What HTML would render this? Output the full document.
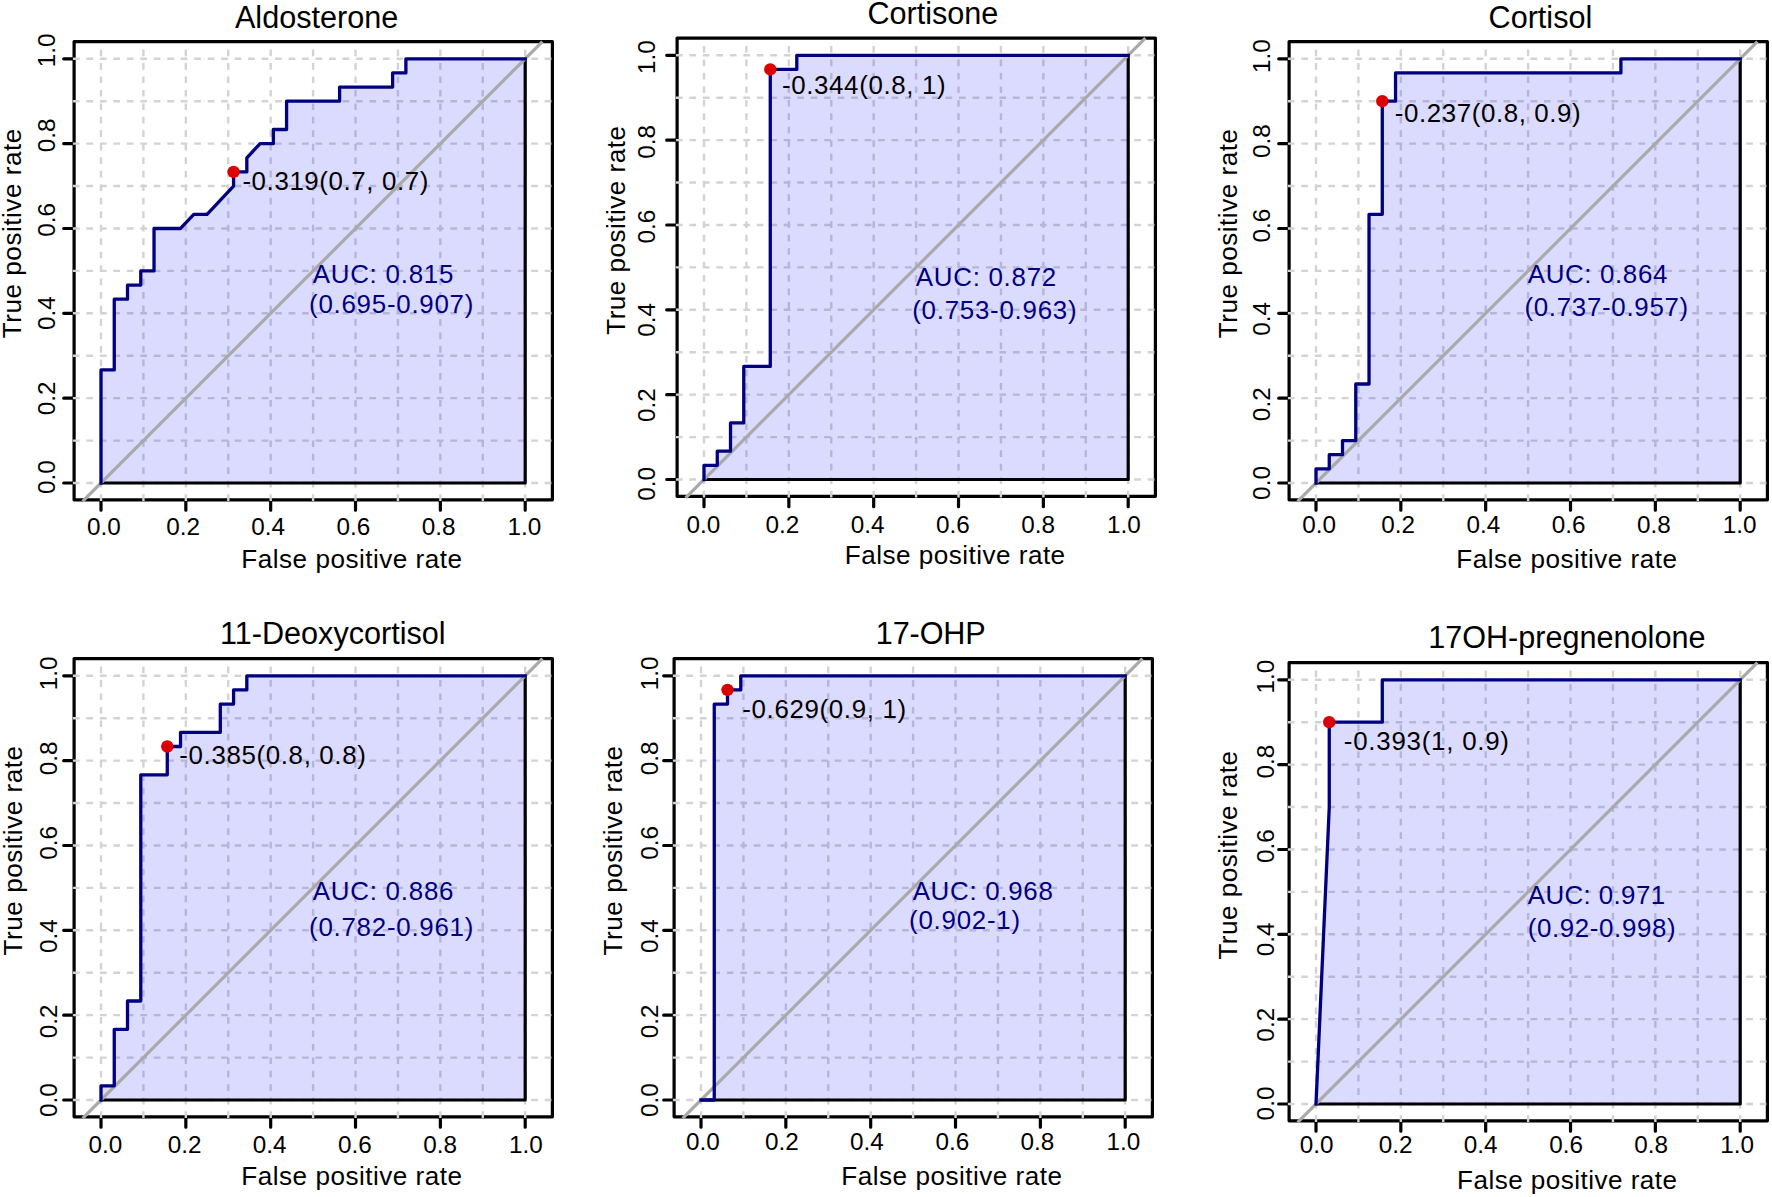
<!DOCTYPE html>
<html lang="en"><head><meta charset="utf-8"><title>ROC curves</title>
<style>html,body{margin:0;padding:0;background:#fff;}body{width:1772px;height:1197px;overflow:hidden;}svg{display:block;}text{font-family:"Liberation Sans",Arial,sans-serif;}</style></head><body>
<svg width="1772" height="1197" viewBox="0 0 1772 1197">
<rect x="0" y="0" width="1772" height="1197" fill="#ffffff"/>
<g id="Aldosterone">
<rect x="74.1" y="41.6" width="478.3" height="458.2" fill="none" stroke="#000" stroke-width="3.2" stroke-linejoin="round"/>
<path d="M101 499.8v10.4M74.1 483h-10.4M185.84 499.8v10.4M74.1 398.16h-10.4M270.68 499.8v10.4M74.1 313.32h-10.4M355.52 499.8v10.4M74.1 228.48h-10.4M440.36 499.8v10.4M74.1 143.64h-10.4M525.2 499.8v10.4M74.1 58.8h-10.4" stroke="#000" stroke-width="3.2" stroke-linecap="round" fill="none"/>
<path d="M101 501V44.2M72.9 483H552.4M143.42 501V44.2M72.9 440.58H552.4M185.84 501V44.2M72.9 398.16H552.4M228.26 501V44.2M72.9 355.74H552.4M270.68 501V44.2M72.9 313.32H552.4M313.1 501V44.2M72.9 270.9H552.4M355.52 501V44.2M72.9 228.48H552.4M397.94 501V44.2M72.9 186.06H552.4M440.36 501V44.2M72.9 143.64H552.4M482.78 501V44.2M72.9 101.22H552.4M525.2 501V44.2M72.9 58.8H552.4" stroke="#d3d3d3" stroke-width="2.4" stroke-dasharray="6.7 6.78" fill="none"/>
<polygon points="101,483 101,369.88 114.26,369.88 114.26,299.18 127.51,299.18 127.51,285.04 140.77,285.04 140.77,270.9 154.03,270.9 154.03,228.48 180.54,228.48 193.79,214.34 207.05,214.34 233.56,186.06 233.56,171.92 246.82,171.92 246.82,157.78 260.07,143.64 273.33,143.64 273.33,129.5 286.59,129.5 286.59,101.22 339.61,101.22 339.61,87.08 392.64,87.08 392.64,72.94 405.89,72.94 405.89,58.8 525.2,58.8 525.2,483 101,483" fill="#0000ff" fill-opacity="0.14" stroke="none"/>
<path d="M525.2 58.8V483H101" stroke="#000" stroke-width="3.2" fill="none" stroke-linejoin="round"/>
<line x1="82.6" y1="501.4" x2="542.4" y2="41.6" stroke="#a9a9a9" stroke-width="3.2"/>
<polyline points="101,483 101,369.88 114.26,369.88 114.26,299.18 127.51,299.18 127.51,285.04 140.77,285.04 140.77,270.9 154.03,270.9 154.03,228.48 180.54,228.48 193.79,214.34 207.05,214.34 233.56,186.06 233.56,171.92 246.82,171.92 246.82,157.78 260.07,143.64 273.33,143.64 273.33,129.5 286.59,129.5 286.59,101.22 339.61,101.22 339.61,87.08 392.64,87.08 392.64,72.94 405.89,72.94 405.89,58.8 525.2,58.8" fill="none" stroke="#000080" stroke-width="3.3" stroke-linejoin="round" stroke-linecap="square"/>
<circle cx="233.56" cy="171.92" r="6.2" fill="#dc0000"/>
<text x="234.94" y="27.8" font-size="30.6" fill="#000">Aldosterone</text>
<text x="87.12" y="534.9" font-size="24.3" fill="#000">0.0</text>
<text transform="translate(54.5 494.08) rotate(-90)" font-size="24.3" fill="#000">0.0</text>
<text x="166.17" y="534.9" font-size="24.3" fill="#000">0.2</text>
<text transform="translate(54.5 415.33) rotate(-90)" font-size="24.3" fill="#000">0.2</text>
<text x="251.26" y="534.9" font-size="24.3" fill="#000">0.4</text>
<text transform="translate(54.5 330.04) rotate(-90)" font-size="24.3" fill="#000">0.4</text>
<text x="336.61" y="534.9" font-size="24.3" fill="#000">0.6</text>
<text transform="translate(54.5 236.69) rotate(-90)" font-size="24.3" fill="#000">0.6</text>
<text x="421.75" y="534.9" font-size="24.3" fill="#000">0.8</text>
<text transform="translate(54.5 152.15) rotate(-90)" font-size="24.3" fill="#000">0.8</text>
<text x="507.6" y="534.9" font-size="24.3" fill="#000">1.0</text>
<text transform="translate(54.5 67.25) rotate(-90)" font-size="24.3" fill="#000">1.0</text>
<text x="241.34" y="567.9" font-size="26.1" letter-spacing="0.5" fill="#000">False positive rate</text>
<text transform="translate(21.05 338.2) rotate(-90)" font-size="26.1" letter-spacing="0.52" fill="#000">True positive rate</text>
<text x="242.42" y="189.7" font-size="25.9" letter-spacing="0.59" fill="#000">-0.319(0.7, 0.7)</text>
<text x="312.63" y="282.5" font-size="25.9" letter-spacing="0.77" fill="#000080">AUC: 0.815</text>
<text x="309.06" y="312.7" font-size="25.9" letter-spacing="0.74" fill="#000080">(0.695-0.907)</text>
</g>
<g id="Cortisone">
<rect x="677.1" y="38.1" width="478.3" height="458.2" fill="none" stroke="#000" stroke-width="3.2" stroke-linejoin="round"/>
<path d="M704 496.3v10.4M677.1 479.5h-10.4M788.84 496.3v10.4M677.1 394.66h-10.4M873.68 496.3v10.4M677.1 309.82h-10.4M958.52 496.3v10.4M677.1 224.98h-10.4M1043.36 496.3v10.4M677.1 140.14h-10.4M1128.2 496.3v10.4M677.1 55.3h-10.4" stroke="#000" stroke-width="3.2" stroke-linecap="round" fill="none"/>
<path d="M704 497.5V40.7M675.9 479.5H1155.4M746.42 497.5V40.7M675.9 437.08H1155.4M788.84 497.5V40.7M675.9 394.66H1155.4M831.26 497.5V40.7M675.9 352.24H1155.4M873.68 497.5V40.7M675.9 309.82H1155.4M916.1 497.5V40.7M675.9 267.4H1155.4M958.52 497.5V40.7M675.9 224.98H1155.4M1000.94 497.5V40.7M675.9 182.56H1155.4M1043.36 497.5V40.7M675.9 140.14H1155.4M1085.78 497.5V40.7M675.9 97.72H1155.4M1128.2 497.5V40.7M675.9 55.3H1155.4" stroke="#d3d3d3" stroke-width="2.4" stroke-dasharray="6.7 6.78" fill="none"/>
<polygon points="704,479.5 704,465.36 717.26,465.36 717.26,451.22 730.51,451.22 730.51,422.94 743.77,422.94 743.77,366.38 770.28,366.38 770.28,69.44 796.79,69.44 796.79,55.3 1128.2,55.3 1128.2,479.5 704,479.5" fill="#0000ff" fill-opacity="0.14" stroke="none"/>
<path d="M1128.2 55.3V479.5H704" stroke="#000" stroke-width="3.2" fill="none" stroke-linejoin="round"/>
<line x1="685.6" y1="497.9" x2="1145.4" y2="38.1" stroke="#a9a9a9" stroke-width="3.2"/>
<polyline points="704,479.5 704,465.36 717.26,465.36 717.26,451.22 730.51,451.22 730.51,422.94 743.77,422.94 743.77,366.38 770.28,366.38 770.28,69.44 796.79,69.44 796.79,55.3 1128.2,55.3" fill="none" stroke="#000080" stroke-width="3.3" stroke-linejoin="round" stroke-linecap="square"/>
<circle cx="770.28" cy="69.44" r="6.2" fill="#dc0000"/>
<text x="867.42" y="24.4" font-size="30.6" fill="#000">Cortisone</text>
<text x="686.52" y="533.4" font-size="24.3" fill="#000">0.0</text>
<text transform="translate(654.5 500.78) rotate(-90)" font-size="24.3" fill="#000">0.0</text>
<text x="765.57" y="533.4" font-size="24.3" fill="#000">0.2</text>
<text transform="translate(654.5 422.03) rotate(-90)" font-size="24.3" fill="#000">0.2</text>
<text x="850.66" y="533.4" font-size="24.3" fill="#000">0.4</text>
<text transform="translate(654.5 336.74) rotate(-90)" font-size="24.3" fill="#000">0.4</text>
<text x="936.01" y="533.4" font-size="24.3" fill="#000">0.6</text>
<text transform="translate(654.5 243.39) rotate(-90)" font-size="24.3" fill="#000">0.6</text>
<text x="1021.15" y="533.4" font-size="24.3" fill="#000">0.8</text>
<text transform="translate(654.5 158.85) rotate(-90)" font-size="24.3" fill="#000">0.8</text>
<text x="1107" y="533.4" font-size="24.3" fill="#000">1.0</text>
<text transform="translate(654.5 73.95) rotate(-90)" font-size="24.3" fill="#000">1.0</text>
<text x="844.74" y="564.4" font-size="26.1" letter-spacing="0.48" fill="#000">False positive rate</text>
<text transform="translate(625 334.8) rotate(-90)" font-size="26.1" letter-spacing="0.48" fill="#000">True positive rate</text>
<text x="781.92" y="94" font-size="25.9" letter-spacing="0.64" fill="#000">-0.344(0.8, 1)</text>
<text x="915.83" y="286.1" font-size="25.9" letter-spacing="0.72" fill="#000080">AUC: 0.872</text>
<text x="912.26" y="319.3" font-size="25.9" letter-spacing="0.74" fill="#000080">(0.753-0.963)</text>
</g>
<g id="Cortisol">
<rect x="1289.1" y="41.6" width="478.3" height="458.2" fill="none" stroke="#000" stroke-width="3.2" stroke-linejoin="round"/>
<path d="M1316 499.8v10.4M1289.1 483h-10.4M1400.84 499.8v10.4M1289.1 398.16h-10.4M1485.68 499.8v10.4M1289.1 313.32h-10.4M1570.52 499.8v10.4M1289.1 228.48h-10.4M1655.36 499.8v10.4M1289.1 143.64h-10.4M1740.2 499.8v10.4M1289.1 58.8h-10.4" stroke="#000" stroke-width="3.2" stroke-linecap="round" fill="none"/>
<path d="M1316 501V44.2M1287.9 483H1767.4M1358.42 501V44.2M1287.9 440.58H1767.4M1400.84 501V44.2M1287.9 398.16H1767.4M1443.26 501V44.2M1287.9 355.74H1767.4M1485.68 501V44.2M1287.9 313.32H1767.4M1528.1 501V44.2M1287.9 270.9H1767.4M1570.52 501V44.2M1287.9 228.48H1767.4M1612.94 501V44.2M1287.9 186.06H1767.4M1655.36 501V44.2M1287.9 143.64H1767.4M1697.78 501V44.2M1287.9 101.22H1767.4M1740.2 501V44.2M1287.9 58.8H1767.4" stroke="#d3d3d3" stroke-width="2.4" stroke-dasharray="6.7 6.78" fill="none"/>
<polygon points="1316,483 1316,468.86 1329.26,468.86 1329.26,454.72 1342.51,454.72 1342.51,440.58 1355.77,440.58 1355.77,384.02 1369.03,384.02 1369.03,214.34 1382.28,214.34 1382.28,101.22 1395.54,101.22 1395.54,72.94 1620.89,72.94 1620.89,58.8 1740.2,58.8 1740.2,483 1316,483" fill="#0000ff" fill-opacity="0.14" stroke="none"/>
<path d="M1740.2 58.8V483H1316" stroke="#000" stroke-width="3.2" fill="none" stroke-linejoin="round"/>
<line x1="1297.6" y1="501.4" x2="1757.4" y2="41.6" stroke="#a9a9a9" stroke-width="3.2"/>
<polyline points="1316,483 1316,468.86 1329.26,468.86 1329.26,454.72 1342.51,454.72 1342.51,440.58 1355.77,440.58 1355.77,384.02 1369.03,384.02 1369.03,214.34 1382.28,214.34 1382.28,101.22 1395.54,101.22 1395.54,72.94 1620.89,72.94 1620.89,58.8 1740.2,58.8" fill="none" stroke="#000080" stroke-width="3.3" stroke-linejoin="round" stroke-linecap="square"/>
<circle cx="1382.28" cy="101.22" r="6.2" fill="#dc0000"/>
<text x="1488.55" y="27.8" font-size="30.6" fill="#000">Cortisol</text>
<text x="1302.32" y="533.1" font-size="24.3" fill="#000">0.0</text>
<text transform="translate(1270.3 499.88) rotate(-90)" font-size="24.3" fill="#000">0.0</text>
<text x="1381.37" y="533.1" font-size="24.3" fill="#000">0.2</text>
<text transform="translate(1270.3 421.13) rotate(-90)" font-size="24.3" fill="#000">0.2</text>
<text x="1466.46" y="533.1" font-size="24.3" fill="#000">0.4</text>
<text transform="translate(1270.3 335.84) rotate(-90)" font-size="24.3" fill="#000">0.4</text>
<text x="1551.81" y="533.1" font-size="24.3" fill="#000">0.6</text>
<text transform="translate(1270.3 242.49) rotate(-90)" font-size="24.3" fill="#000">0.6</text>
<text x="1636.95" y="533.1" font-size="24.3" fill="#000">0.8</text>
<text transform="translate(1270.3 157.95) rotate(-90)" font-size="24.3" fill="#000">0.8</text>
<text x="1722.8" y="533.1" font-size="24.3" fill="#000">1.0</text>
<text transform="translate(1270.3 73.05) rotate(-90)" font-size="24.3" fill="#000">1.0</text>
<text x="1456.34" y="567.9" font-size="26.1" letter-spacing="0.5" fill="#000">False positive rate</text>
<text transform="translate(1237.1 338.2) rotate(-90)" font-size="26.1" letter-spacing="0.5" fill="#000">True positive rate</text>
<text x="1394.82" y="122.2" font-size="25.9" letter-spacing="0.58" fill="#000">-0.237(0.8, 0.9)</text>
<text x="1527.73" y="282.5" font-size="25.9" letter-spacing="0.64" fill="#000080">AUC: 0.864</text>
<text x="1524.46" y="315.6" font-size="25.9" letter-spacing="0.69" fill="#000080">(0.737-0.957)</text>
</g>
<g id="11-Deoxycortisol">
<rect x="74.1" y="658.6" width="478.3" height="458.2" fill="none" stroke="#000" stroke-width="3.2" stroke-linejoin="round"/>
<path d="M101 1116.8v10.4M74.1 1100h-10.4M185.84 1116.8v10.4M74.1 1015.16h-10.4M270.68 1116.8v10.4M74.1 930.32h-10.4M355.52 1116.8v10.4M74.1 845.48h-10.4M440.36 1116.8v10.4M74.1 760.64h-10.4M525.2 1116.8v10.4M74.1 675.8h-10.4" stroke="#000" stroke-width="3.2" stroke-linecap="round" fill="none"/>
<path d="M101 1118V661.2M72.9 1100H552.4M143.42 1118V661.2M72.9 1057.58H552.4M185.84 1118V661.2M72.9 1015.16H552.4M228.26 1118V661.2M72.9 972.74H552.4M270.68 1118V661.2M72.9 930.32H552.4M313.1 1118V661.2M72.9 887.9H552.4M355.52 1118V661.2M72.9 845.48H552.4M397.94 1118V661.2M72.9 803.06H552.4M440.36 1118V661.2M72.9 760.64H552.4M482.78 1118V661.2M72.9 718.22H552.4M525.2 1118V661.2M72.9 675.8H552.4" stroke="#d3d3d3" stroke-width="2.4" stroke-dasharray="6.7 6.78" fill="none"/>
<polygon points="101,1100 101,1085.86 114.26,1085.86 114.26,1029.3 127.51,1029.3 127.51,1001.02 140.77,1001.02 140.77,774.78 167.28,774.78 167.28,746.5 180.54,746.5 180.54,732.36 220.31,732.36 220.31,704.08 233.56,704.08 233.56,689.94 246.82,689.94 246.82,675.8 525.2,675.8 525.2,1100 101,1100" fill="#0000ff" fill-opacity="0.14" stroke="none"/>
<path d="M525.2 675.8V1100H101" stroke="#000" stroke-width="3.2" fill="none" stroke-linejoin="round"/>
<line x1="82.6" y1="1118.4" x2="542.4" y2="658.6" stroke="#a9a9a9" stroke-width="3.2"/>
<polyline points="101,1100 101,1085.86 114.26,1085.86 114.26,1029.3 127.51,1029.3 127.51,1001.02 140.77,1001.02 140.77,774.78 167.28,774.78 167.28,746.5 180.54,746.5 180.54,732.36 220.31,732.36 220.31,704.08 233.56,704.08 233.56,689.94 246.82,689.94 246.82,675.8 525.2,675.8" fill="none" stroke="#000080" stroke-width="3.3" stroke-linejoin="round" stroke-linecap="square"/>
<circle cx="167.28" cy="746.5" r="6.2" fill="#dc0000"/>
<text x="220.03" y="644.1" font-size="30.6" fill="#000">11-Deoxycortisol</text>
<text x="88.62" y="1152.6" font-size="24.3" fill="#000">0.0</text>
<text transform="translate(57.1 1117.08) rotate(-90)" font-size="24.3" fill="#000">0.0</text>
<text x="167.67" y="1152.6" font-size="24.3" fill="#000">0.2</text>
<text transform="translate(57.1 1038.33) rotate(-90)" font-size="24.3" fill="#000">0.2</text>
<text x="252.76" y="1152.6" font-size="24.3" fill="#000">0.4</text>
<text transform="translate(57.1 953.04) rotate(-90)" font-size="24.3" fill="#000">0.4</text>
<text x="338.11" y="1152.6" font-size="24.3" fill="#000">0.6</text>
<text transform="translate(57.1 859.69) rotate(-90)" font-size="24.3" fill="#000">0.6</text>
<text x="423.25" y="1152.6" font-size="24.3" fill="#000">0.8</text>
<text transform="translate(57.1 775.15) rotate(-90)" font-size="24.3" fill="#000">0.8</text>
<text x="509.1" y="1152.6" font-size="24.3" fill="#000">1.0</text>
<text transform="translate(57.1 690.25) rotate(-90)" font-size="24.3" fill="#000">1.0</text>
<text x="241.34" y="1184.9" font-size="26.1" letter-spacing="0.5" fill="#000">False positive rate</text>
<text transform="translate(21.7 955.4) rotate(-90)" font-size="26.1" letter-spacing="0.52" fill="#000">True positive rate</text>
<text x="179.32" y="764.1" font-size="25.9" letter-spacing="0.63" fill="#000">-0.385(0.8, 0.8)</text>
<text x="312.63" y="899.5" font-size="25.9" letter-spacing="0.78" fill="#000080">AUC: 0.886</text>
<text x="309.06" y="936.3" font-size="25.9" letter-spacing="0.74" fill="#000080">(0.782-0.961)</text>
</g>
<g id="17-OHP">
<rect x="674.1" y="658.6" width="478.3" height="458.2" fill="none" stroke="#000" stroke-width="3.2" stroke-linejoin="round"/>
<path d="M701 1116.8v10.4M674.1 1100h-10.4M785.84 1116.8v10.4M674.1 1015.16h-10.4M870.68 1116.8v10.4M674.1 930.32h-10.4M955.52 1116.8v10.4M674.1 845.48h-10.4M1040.36 1116.8v10.4M674.1 760.64h-10.4M1125.2 1116.8v10.4M674.1 675.8h-10.4" stroke="#000" stroke-width="3.2" stroke-linecap="round" fill="none"/>
<path d="M701 1118V661.2M672.9 1100H1152.4M743.42 1118V661.2M672.9 1057.58H1152.4M785.84 1118V661.2M672.9 1015.16H1152.4M828.26 1118V661.2M672.9 972.74H1152.4M870.68 1118V661.2M672.9 930.32H1152.4M913.1 1118V661.2M672.9 887.9H1152.4M955.52 1118V661.2M672.9 845.48H1152.4M997.94 1118V661.2M672.9 803.06H1152.4M1040.36 1118V661.2M672.9 760.64H1152.4M1082.78 1118V661.2M672.9 718.22H1152.4M1125.2 1118V661.2M672.9 675.8H1152.4" stroke="#d3d3d3" stroke-width="2.4" stroke-dasharray="6.7 6.78" fill="none"/>
<polygon points="701,1100 714.26,1100 714.26,704.08 727.51,704.08 727.51,689.94 740.77,689.94 740.77,675.8 1125.2,675.8 1125.2,1100 701,1100" fill="#0000ff" fill-opacity="0.14" stroke="none"/>
<path d="M1125.2 675.8V1100H701" stroke="#000" stroke-width="3.2" fill="none" stroke-linejoin="round"/>
<line x1="682.6" y1="1118.4" x2="1142.4" y2="658.6" stroke="#a9a9a9" stroke-width="3.2"/>
<polyline points="701,1100 714.26,1100 714.26,704.08 727.51,704.08 727.51,689.94 740.77,689.94 740.77,675.8 1125.2,675.8" fill="none" stroke="#000080" stroke-width="3.3" stroke-linejoin="round" stroke-linecap="square"/>
<circle cx="727.51" cy="689.94" r="6.2" fill="#dc0000"/>
<text x="875.85" y="644.1" font-size="30.6" letter-spacing="-0.14" fill="#000">17-OHP</text>
<text x="685.92" y="1150.1" font-size="24.3" fill="#000">0.0</text>
<text transform="translate(658 1117.08) rotate(-90)" font-size="24.3" fill="#000">0.0</text>
<text x="764.97" y="1150.1" font-size="24.3" fill="#000">0.2</text>
<text transform="translate(658 1038.33) rotate(-90)" font-size="24.3" fill="#000">0.2</text>
<text x="850.06" y="1150.1" font-size="24.3" fill="#000">0.4</text>
<text transform="translate(658 953.04) rotate(-90)" font-size="24.3" fill="#000">0.4</text>
<text x="935.41" y="1150.1" font-size="24.3" fill="#000">0.6</text>
<text transform="translate(658 859.69) rotate(-90)" font-size="24.3" fill="#000">0.6</text>
<text x="1020.55" y="1150.1" font-size="24.3" fill="#000">0.8</text>
<text transform="translate(658 775.15) rotate(-90)" font-size="24.3" fill="#000">0.8</text>
<text x="1106.4" y="1150.1" font-size="24.3" fill="#000">1.0</text>
<text transform="translate(658 690.25) rotate(-90)" font-size="24.3" fill="#000">1.0</text>
<text x="841.34" y="1184.9" font-size="26.1" letter-spacing="0.5" fill="#000">False positive rate</text>
<text transform="translate(621.7 955.4) rotate(-90)" font-size="26.1" letter-spacing="0.52" fill="#000">True positive rate</text>
<text x="742.32" y="717.8" font-size="25.9" letter-spacing="0.64" fill="#000">-0.629(0.9, 1)</text>
<text x="912.63" y="899.5" font-size="25.9" letter-spacing="0.71" fill="#000080">AUC: 0.968</text>
<text x="909.06" y="929.3" font-size="25.9" letter-spacing="0.75" fill="#000080">(0.902-1)</text>
</g>
<g id="17OH-pregnenolone">
<rect x="1289.1" y="662.6" width="478.3" height="458.2" fill="none" stroke="#000" stroke-width="3.2" stroke-linejoin="round"/>
<path d="M1316 1120.8v10.4M1289.1 1104h-10.4M1400.84 1120.8v10.4M1289.1 1019.16h-10.4M1485.68 1120.8v10.4M1289.1 934.32h-10.4M1570.52 1120.8v10.4M1289.1 849.48h-10.4M1655.36 1120.8v10.4M1289.1 764.64h-10.4M1740.2 1120.8v10.4M1289.1 679.8h-10.4" stroke="#000" stroke-width="3.2" stroke-linecap="round" fill="none"/>
<path d="M1316 1122V665.2M1287.9 1104H1767.4M1358.42 1122V665.2M1287.9 1061.58H1767.4M1400.84 1122V665.2M1287.9 1019.16H1767.4M1443.26 1122V665.2M1287.9 976.74H1767.4M1485.68 1122V665.2M1287.9 934.32H1767.4M1528.1 1122V665.2M1287.9 891.9H1767.4M1570.52 1122V665.2M1287.9 849.48H1767.4M1612.94 1122V665.2M1287.9 807.06H1767.4M1655.36 1122V665.2M1287.9 764.64H1767.4M1697.78 1122V665.2M1287.9 722.22H1767.4M1740.2 1122V665.2M1287.9 679.8H1767.4" stroke="#d3d3d3" stroke-width="2.4" stroke-dasharray="6.7 6.78" fill="none"/>
<polygon points="1316,1104 1329.26,807.06 1329.26,722.22 1382.28,722.22 1382.28,679.8 1740.2,679.8 1740.2,1104 1316,1104" fill="#0000ff" fill-opacity="0.14" stroke="none"/>
<path d="M1740.2 679.8V1104H1316" stroke="#000" stroke-width="3.2" fill="none" stroke-linejoin="round"/>
<line x1="1297.6" y1="1122.4" x2="1757.4" y2="662.6" stroke="#a9a9a9" stroke-width="3.2"/>
<polyline points="1316,1104 1329.26,807.06 1329.26,722.22 1382.28,722.22 1382.28,679.8 1740.2,679.8" fill="none" stroke="#000080" stroke-width="3.3" stroke-linejoin="round" stroke-linecap="square"/>
<circle cx="1329.26" cy="722.22" r="6.2" fill="#dc0000"/>
<text x="1428.2" y="648" font-size="30.6" fill="#000">17OH-pregnenolone</text>
<text x="1299.72" y="1153.4" font-size="24.3" fill="#000">0.0</text>
<text transform="translate(1274 1120.38) rotate(-90)" font-size="24.3" fill="#000">0.0</text>
<text x="1378.77" y="1153.4" font-size="24.3" fill="#000">0.2</text>
<text transform="translate(1274 1041.63) rotate(-90)" font-size="24.3" fill="#000">0.2</text>
<text x="1463.86" y="1153.4" font-size="24.3" fill="#000">0.4</text>
<text transform="translate(1274 956.34) rotate(-90)" font-size="24.3" fill="#000">0.4</text>
<text x="1549.21" y="1153.4" font-size="24.3" fill="#000">0.6</text>
<text transform="translate(1274 862.99) rotate(-90)" font-size="24.3" fill="#000">0.6</text>
<text x="1634.35" y="1153.4" font-size="24.3" fill="#000">0.8</text>
<text transform="translate(1274 778.45) rotate(-90)" font-size="24.3" fill="#000">0.8</text>
<text x="1720.2" y="1153.4" font-size="24.3" fill="#000">1.0</text>
<text transform="translate(1274 693.55) rotate(-90)" font-size="24.3" fill="#000">1.0</text>
<text x="1457.04" y="1188.9" font-size="26.1" letter-spacing="0.46" fill="#000">False positive rate</text>
<text transform="translate(1237.1 959.6) rotate(-90)" font-size="26.1" letter-spacing="0.47" fill="#000">True positive rate</text>
<text x="1343.82" y="750" font-size="25.9" letter-spacing="0.75" fill="#000">-0.393(1, 0.9)</text>
<text x="1527.73" y="903.5" font-size="25.9" letter-spacing="0.39" fill="#000080">AUC: 0.971</text>
<text x="1527.66" y="936.5" font-size="25.9" letter-spacing="0.63" fill="#000080">(0.92-0.998)</text>
</g>
</svg></body></html>
